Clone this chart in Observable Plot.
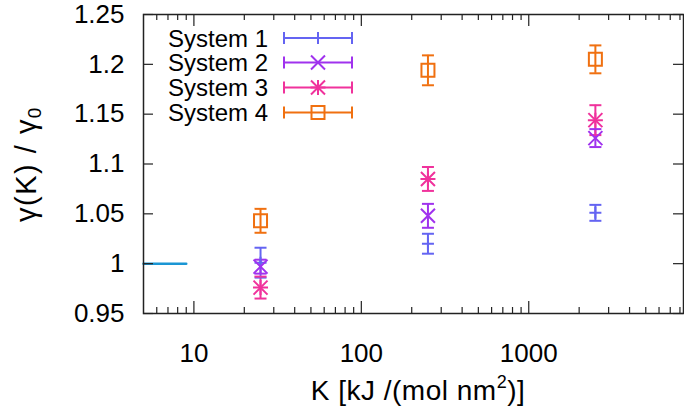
<!DOCTYPE html>
<html>
<head>
<meta charset="utf-8">
<script src="https://cdn.jsdelivr.net/npm/d3@7"></script>
<script src="https://cdn.jsdelivr.net/npm/@observablehq/plot@0.6"></script>
<style>
  html, body { margin: 0; padding: 0; background: #fff; }
  #chart { position: relative; width: 684px; height: 409px; }
  svg { font-family: "Liberation Sans", Arial, Helvetica, sans-serif; }
</style>
</head>
<body>
<div id="chart"></div>
<script>
// ---- data ----
const K = [25, 250, 2500];
const seriesNames = ["System 1", "System 2", "System 3", "System 4"];
const seriesColors = ["#6464f2", "#a032ee", "#f0329c", "#f07010"];
const sys1 = [1.001, 1.020, 1.051];
const err1 = [0.015, 0.010, 0.008];
const sys2 = [0.997, 1.048, 1.126];
const err2 = [0.007, 0.012, 0.009];
const sys3 = [0.976, 1.085, 1.144];
const err3 = [0.011, 0.012, 0.015];
const sys4 = [1.043, 1.194, 1.205];
const err4 = [0.012, 0.015, 0.014];
const refK = [5, 9];
const refY = [1, 1];
const xMajor = [10, 100, 1000];
const xMajorLabels = ["10", "100", "1000"];
const xMinor = [6, 7, 8, 9, 20, 30, 40, 50, 60, 70, 80, 90, 200, 300, 400, 500, 600, 700, 800, 900, 2000, 3000, 4000, 5000, 6000, 7000, 8000];
const yTicks = [0.95, 1.0, 1.05, 1.1, 1.15, 1.2, 1.25];
const yTickLabels = ["0.95", "1", "1.05", "1.1", "1.15", "1.2", "1.25"];

const values = [sys1, sys2, sys3, sys4];
const errors = [err1, err2, err3, err4];
const rows = [];
values.forEach((vals, s) => vals.forEach((v, i) => rows.push({
  series: seriesNames[s], s, K: K[i], v, lo: v - errors[s][i], hi: v + errors[s][i]
})));

// ---- custom symbols (size = pi r^2) ----
const rad = size => Math.sqrt(size / Math.PI);
const capSym = { draw(c, size) { const r = rad(size); c.moveTo(-r, 0); c.lineTo(r, 0); } };
const plusSym = { draw(c, size) { const r = rad(size); c.moveTo(-r, 0); c.lineTo(r, 0); c.moveTo(0, -r); c.lineTo(0, r); } };
const timesSym = { draw(c, size) { const r = rad(size); c.moveTo(-r, -r); c.lineTo(r, r); c.moveTo(-r, r); c.lineTo(r, -r); } };
const squareSym = { draw(c, size) { const r = rad(size); c.moveTo(-r, -r); c.lineTo(r, -r); c.lineTo(r, r); c.lineTo(-r, r); c.closePath(); } };
const markerDefs = [
  [{ sym: plusSym, r: 6 }],
  [{ sym: timesSym, r: 7 }],
  [{ sym: plusSym, r: 7.5 }, { sym: timesSym, r: 7 }],
  [{ sym: squareSym, r: 6.5 }]
];

const W = 684, H = 409;
const mL = 143, mR = 1, mT = 14, mB = 96;
const innerH = H - mT - mB, innerW = W - mL - mR;
const colorOf = d => seriesColors[d.s];
const FONT = '"Liberation Sans", Arial, Helvetica, sans-serif';

const marks = [
  Plot.line(refK.map((k, i) => ({ k, y: refY[i] })), { x: "k", y: "y", stroke: "#1a96d4", strokeWidth: 2.5 }),
  Plot.ruleX(rows, { x: "K", y1: "lo", y2: "hi", stroke: colorOf, strokeWidth: 2 }),
  Plot.dot(rows, { x: "K", y: "lo", symbol: capSym, r: 6, stroke: colorOf, strokeWidth: 2, fill: "none" }),
  Plot.dot(rows, { x: "K", y: "hi", symbol: capSym, r: 6, stroke: colorOf, strokeWidth: 2, fill: "none" })
];
markerDefs.forEach((defs, s) => defs.forEach(md => {
  marks.push(Plot.dot(rows.filter(d => d.s === s), { x: "K", y: "v", symbol: md.sym, r: md.r, stroke: seriesColors[s], strokeWidth: 2, fill: "none" }));
}));
marks.push(
  Plot.ruleX(xMajor, { x: d => d, insetTop: innerH - 12, stroke: "#222", strokeWidth: 1.2 }),
  Plot.ruleX(xMajor, { x: d => d, insetBottom: innerH - 12, stroke: "#222", strokeWidth: 1.2 }),
  Plot.ruleX(xMinor, { x: d => d, insetTop: innerH - 6, stroke: "#222", strokeWidth: 1.2 }),
  Plot.ruleX(xMinor, { x: d => d, insetBottom: innerH - 6, stroke: "#222", strokeWidth: 1.2 }),
  Plot.ruleY(yTicks, { y: d => d, insetRight: innerW - 10, stroke: "#222", strokeWidth: 1.2 }),
  Plot.ruleY(yTicks, { y: d => d, insetLeft: innerW - 10, stroke: "#222", strokeWidth: 1.2 }),
  Plot.frame({ stroke: "#222", strokeWidth: 1.5 }),
  Plot.text(xMajor, { x: d => d, frameAnchor: "bottom", dy: 40, text: (d, i) => xMajorLabels[i], fontSize: 26, fill: "#000", lineAnchor: "middle", letterSpacing: "1px" }),
  Plot.text(yTicks, { y: d => d, frameAnchor: "left", dx: -19, textAnchor: "end", text: (d, i) => yTickLabels[i], fontSize: 26, fill: "#000", lineAnchor: "middle", letterSpacing: "1px" })
);

const svg = Plot.plot({
  width: W, height: H,
  marginLeft: mL, marginRight: mR, marginTop: mT, marginBottom: mB,
  x: { type: "log", domain: [5, 8400], axis: null },
  y: { domain: [0.95, 1.25], axis: null },
  style: { fontFamily: FONT, background: "#fff" },
  marks
});
document.getElementById("chart").appendChild(svg);

// ---- axis titles and legend ----
const g = d3.select(svg).append("g").attr("font-family", FONT);
const xt = g.append("text").attr("x", 418).attr("y", 400).attr("text-anchor", "middle").attr("font-size", 28).attr("letter-spacing", "0.5px").attr("fill", "#000");
xt.append("tspan").text("K [kJ /(mol nm");
xt.append("tspan").attr("font-size", 18).attr("dy", -12).text("2");
xt.append("tspan").attr("dy", 12).text(")]");
const yt = g.append("text").attr("transform", "translate(36,164) rotate(-90)").attr("text-anchor", "middle").attr("font-size", 29).attr("letter-spacing", "1.5px").attr("fill", "#000");
yt.append("tspan").text("γ(K) / γ");
yt.append("tspan").attr("font-size", 19).attr("dy", 5).text("0");

const legY = [38, 62.5, 87.5, 112.5];
seriesNames.forEach((name, s) => {
  const y = legY[s], c = seriesColors[s];
  g.append("text").attr("x", 268).attr("y", y).attr("dy", "0.36em").attr("text-anchor", "end").attr("font-size", 24).attr("fill", "#000").text(name);
  g.append("line").attr("x1", 284).attr("x2", 352).attr("y1", y).attr("y2", y).attr("stroke", c).attr("stroke-width", 2);
  [284, 352].forEach(x => g.append("line").attr("x1", x).attr("x2", x).attr("y1", y - 6).attr("y2", y + 6).attr("stroke", c).attr("stroke-width", 2));
  markerDefs[s].forEach(md => {
    g.append("path").attr("transform", `translate(318,${y})`)
      .attr("d", d3.symbol().type(md.sym).size(Math.PI * md.r * md.r)())
      .attr("fill", "none").attr("stroke", c).attr("stroke-width", 2);
  });
});
</script>
</body>
</html>
